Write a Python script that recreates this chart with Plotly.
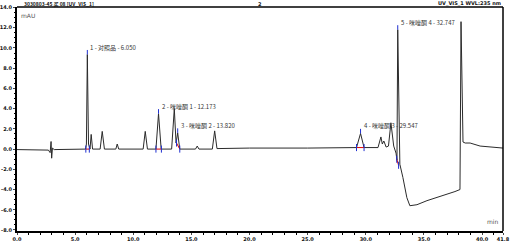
import plotly.graph_objects as go

# Chromatogram trace (time in min, signal in mAU)
time_min = [0, 2.7, 2.85, 2.93, 2.98, 3.05, 3.2, 5.6, 5.9, 5.97, 6.05, 6.15, 6.28, 6.38, 6.5, 7.15, 7.33, 7.52,
            8.5, 8.62, 8.75, 10.85, 11.03, 11.22, 11.95, 12.173, 12.4, 13.3, 13.53, 13.68, 13.82, 14.0,
            15.35, 15.5, 15.65, 16.8, 17.0, 17.2, 20.0, 25.0, 29.2, 29.547, 29.85, 31.05, 31.3, 31.42,
            31.55, 31.75, 31.95, 32.16, 32.4, 32.6, 32.68, 32.747, 32.85, 32.93, 33.19, 33.53, 33.79,
            34.4, 35.26, 36.38, 37.67, 38.1, 38.19, 38.36, 38.55, 38.97, 39.83, 41.8]
signal_mau = [-0.05, -0.1, -0.35, 0.75, -0.9, 0.1, -0.05, -0.05, 0.0, 0.5, 9.35, 0.5, 0.0, 1.45, 0.0, 0.0, 1.75, 0.0,
              0.0, 0.5, 0.0, 0.0, 1.75, 0.0, 0.0, 3.5, 0.0, 0.0, 4.0, 0.6, 1.6, 0.0,
              0.0, 0.3, 0.0, 0.0, 1.8, 0.05, 0.1, 0.1, 0.15, 1.55, 0.15, 0.15, 1.2, 0.5,
              0.8, 0.2, 0.3, 2.6, 0.3, -0.4, -1.1, 11.8, 1.0, -1.5, -2.8, -4.8, -5.6,
              -5.5, -5.1, -4.7, -4.2, -4.0, 12.6, 0.7, 0.6, 0.6, 0.3, 0.1]

# Identified peaks
peak_rt = [6.050, 12.173, 13.820, 29.547, 32.747]
peak_height = [9.35, 3.5, 1.6, 1.55, 11.8]
peak_names = ["1 - 对照品 - 6.050", "2 - 咪唑酮 1 - 12.173", "3 - 咪唑酮 2 - 13.820",
              "4 - 咪唑酮 3 - 29.547", "5 - 咪唑酮 4 - 32.747"]
peak_start = [5.92, 11.95, 13.72, 29.2, 32.66]
peak_end = [6.22, 12.42, 14.0, 29.85, 32.82]
peak_base_start = [0.0, 0.0, 0.6, 0.15, -1.0]
peak_base_end = [0.0, 0.0, 0.0, 0.15, -1.6]

x_ticks = [0, 5, 10, 15, 20, 25, 30, 35, 40, 41.8]
x_tick_text = ["0.0", "5.0", "10.0", "15.0", "20.0", "25.0", "30.0", "35.0", "40.0", "41.8"]
y_ticks = [-8, -6, -4, -2, 0, 2, 4, 6, 8, 10, 12, 14]
y_tick_text = ["-8.0", "-6.0", "-4.0", "-2.0", "0.0", "2.0", "4.0", "6.0", "8.0", "10.0", "12.0", "14.0"]

fig = go.Figure()
fig.add_trace(go.Scatter(x=time_min, y=signal_mau, mode="lines",
                         line=dict(color="#2b2b2b", width=1), hoverinfo="skip", cliponaxis=False))

# integration baselines (red) and boundary markers (blue)
for s, e, bs, be in zip(peak_start, peak_end, peak_base_start, peak_base_end):
    fig.add_trace(go.Scatter(x=[s, e], y=[bs, be], mode="lines",
                             line=dict(color="#e00000", width=1), hoverinfo="skip"))
    fig.add_trace(go.Scatter(x=[s, s, None, e, e], y=[bs - 0.35, bs + 0.35, None, be - 0.35, be + 0.35],
                             mode="lines", line=dict(color="#1f2fd0", width=1), hoverinfo="skip"))

for rt, h, name in zip(peak_rt, peak_height, peak_names):
    fig.add_trace(go.Scatter(x=[rt, rt], y=[h, h + 0.45], mode="lines",
                             line=dict(color="#1f2fd0", width=1), hoverinfo="skip"))
    fig.add_annotation(x=rt, y=h + 0.1, text=name, showarrow=False, xanchor="left", yanchor="bottom",
                       xshift=1, font=dict(size=6, color="#333333", family="Noto Sans CJK SC"))

fig.add_annotation(x=0.005, y=0.985, xref="paper", yref="paper", text="mAU", showarrow=False,
                   xanchor="left", yanchor="top", font=dict(size=6, color="#555555", family="DejaVu Sans"))
fig.add_annotation(x=0.995, y=0.02, xref="paper", yref="paper", text="min", showarrow=False,
                   xanchor="right", yanchor="bottom", font=dict(size=6, color="#555555", family="DejaVu Sans"))
fig.add_annotation(x=0.01, y=1.0, xref="paper", yref="paper", yanchor="bottom", xanchor="left",
                   text="<b>3030803-45 买 08 [UV_VIS_1]</b>", showarrow=False, yshift=-3,
                   font=dict(size=5, color="#111111", family="Noto Sans CJK SC"))
fig.add_annotation(x=0.5, y=1.0, xref="paper", yref="paper", yanchor="bottom", xanchor="center",
                   text="<b>2</b>", showarrow=False, yshift=-2,
                   font=dict(size=5, color="#111111", family="DejaVu Sans"))
fig.add_annotation(x=1.0, y=1.0, xref="paper", yref="paper", yanchor="bottom", xanchor="right",
                   text="<b>UV_VIS_1 WVL:235 nm</b>", showarrow=False, yshift=-2,
                   font=dict(size=5, color="#111111", family="DejaVu Sans"))

fig.update_layout(
    width=512, height=242, margin=dict(l=17, r=9, t=7, b=11),
    paper_bgcolor="white", plot_bgcolor="white", showlegend=False,
    font=dict(family="DejaVu Sans", size=5, color="#111111"),
)
fig.update_xaxes(range=[0, 41.8], tickvals=x_ticks, ticktext=x_tick_text, ticks="outside", ticklen=2,
                 tickwidth=1, showline=True, linecolor="black", linewidth=2, mirror=False, automargin=False,
                 showgrid=False, zeroline=False, tickfont=dict(size=5, family="DejaVu Sans", weight="bold"),
                 minor=dict(dtick=1, ticks="outside", ticklen=2, tickcolor="black"))
fig.update_yaxes(range=[-8.1, 14.05], tickvals=y_ticks, ticktext=y_tick_text, ticks="outside", ticklen=2,
                 tickwidth=1, showline=True, linecolor="black", linewidth=2, mirror=False, automargin=False,
                 showgrid=False, zeroline=False, tickfont=dict(size=5, family="DejaVu Sans", weight="bold"),
                 minor=dict(dtick=0.5, ticks="outside", ticklen=1, tickcolor="black"))
# frame: top and right border lines
fig.add_shape(type="line", xref="paper", yref="paper", x0=0, x1=1, y0=1, y1=1, line=dict(color="black", width=1.5))
fig.add_shape(type="line", xref="paper", yref="paper", x0=1, x1=1, y0=0, y1=1, line=dict(color="black", width=1.5))

fig.write_html("out.html")
